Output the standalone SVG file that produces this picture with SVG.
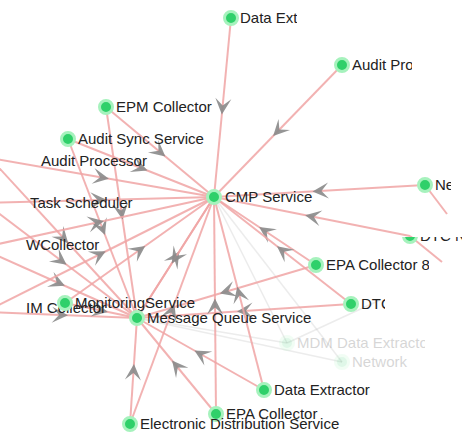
<svg xmlns="http://www.w3.org/2000/svg" width="472" height="434" viewBox="0 0 472 434">
<style>
.e{fill:none;stroke:#f0a4a4;stroke-width:2;stroke-opacity:0.85;marker-mid:url(#arr)}
.f{fill:none;stroke:#c8c8c8;stroke-width:1.5;stroke-opacity:0.35}
.p{fill:none;stroke:#f0a4a4;stroke-width:2;stroke-opacity:0.85}
.n{fill:#2fd06a;stroke:#a6f2bd;stroke-width:3}
.fn{fill:#2fd06a;stroke:#a6f2bd;stroke-width:3;opacity:0.15}
.t{font-family:"Liberation Sans",Arial,sans-serif;font-size:15px;fill:#222}
.ft{font-family:"Liberation Sans",Arial,sans-serif;font-size:15px;fill:#222;opacity:0.18}
</style>
<defs>
<marker id="arr" markerUnits="userSpaceOnUse" viewBox="-10 -10 20 20" markerWidth="20" markerHeight="20" refX="0" refY="0" orient="auto">
<path d="M7,0 L-9,-8 L-2,0 L-9,8 Z" fill="#8a8a8a" fill-opacity="0.9"/>
</marker>
<clipPath id="c1"><rect x="0" y="0" width="297" height="434"/></clipPath>
<clipPath id="c2"><rect x="0" y="0" width="412" height="434"/></clipPath>
<clipPath id="c3"><rect x="0" y="0" width="451" height="434"/></clipPath>
<clipPath id="c4"><rect x="0" y="0" width="429" height="434"/></clipPath>
<clipPath id="c5"><rect x="0" y="0" width="385" height="434"/></clipPath>
<clipPath id="c6"><rect x="0" y="0" width="425" height="434"/></clipPath>
<clipPath id="c7"><rect x="0" y="0" width="410" height="434"/></clipPath>
<clipPath id="c8"><rect x="400" y="237" width="62" height="20"/></clipPath>
</defs>
<rect width="472" height="434" fill="#fff"/>
<g id="connectors">
<path class="f" d="M287,343 L214,197"/>
<path class="f" d="M287,343 L137,318"/>
<path class="f" d="M342,362 L214,197"/>
<path class="f" d="M342,362 L137,318"/>
<path class="f" d="M287,343 L380,300"/>
<path class="p" d="M425,185 L447,214"/>
<path class="p" d="M410,236 L442,262"/>
<path class="e" d="M231,18 L222.5,107.5 L214,197"/>
<path class="e" d="M342,65 L278,131 L214,197"/>
<path class="e" d="M106,107 L160,152 L214,197"/>
<path class="e" d="M106,107 L121.5,212.5 L137,318"/>
<path class="e" d="M68,139 L141,168 L214,197"/>
<path class="e" d="M68,139 L102.5,228.5 L137,318"/>
<path class="e" d="M-10,158 L102,177.5 L214,197"/>
<path class="e" d="M-10,158 L63.5,238 L137,318"/>
<path class="e" d="M-15,203 L99.5,200 L214,197"/>
<path class="e" d="M-15,203 L61,260.5 L137,318"/>
<path class="e" d="M-20,248 L97,222.5 L214,197"/>
<path class="e" d="M-20,248 L58.5,283 L137,318"/>
<path class="e" d="M-15,312 L99.5,254.5 L214,197"/>
<path class="e" d="M-15,312 L61,315 L137,318"/>
<path class="e" d="M65,303 L139.5,250 L214,197"/>
<path class="e" d="M65,303 L101,310.5 L137,318"/>
<path class="e" d="M137,318 L175.5,257.5 L214,197"/>
<path class="e" d="M214,197 L175.5,257.5 L137,318"/>
<path class="e" d="M425,185 L319.5,191 L214,197"/>
<path class="e" d="M410,236 L312,216.5 L214,197"/>
<path class="e" d="M316,265 L265,231 L214,197"/>
<path class="e" d="M316,265 L226.5,291.5 L137,318"/>
<path class="e" d="M351,304 L282.5,250.5 L214,197"/>
<path class="e" d="M351,304 L244,311 L137,318"/>
<path class="e" d="M264,390 L239,293.5 L214,197"/>
<path class="e" d="M264,390 L200.5,354 L137,318"/>
<path class="e" d="M216,414 L215,305.5 L214,197"/>
<path class="e" d="M216,414 L176.5,366 L137,318"/>
<path class="e" d="M130,424 L133.5,371 L137,318"/>
<path class="e" d="M130,424 L172,310.5 L214,197"/>
</g>
<g id="n-dataext-top"><circle class="n" cx="231" cy="18" r="6.5"/><text class="t" x="240" y="23" clip-path="url(#c1)">Data Extractor</text></g>
<g id="n-auditpro-top"><circle class="n" cx="342" cy="65" r="6.5"/><text class="t" x="352" y="70" clip-path="url(#c2)">Audit Processor</text></g>
<g id="n-epm"><circle class="n" cx="106" cy="107" r="6.5"/><text class="t" x="116" y="112">EPM Collector</text></g>
<g id="n-auditsync"><circle class="n" cx="68" cy="139" r="6.5"/><text class="t" x="78" y="144">Audit Sync Service</text></g>
<g id="n-auditproc"><text class="t" x="41" y="166">Audit Processor</text></g>
<g id="n-task"><text class="t" x="30" y="208">Task Scheduler</text></g>
<g id="n-wcoll"><text class="t" x="26" y="250">WCollector</text></g>
<g id="n-imcoll"><text class="t" x="26" y="313">IM Collector</text></g>
<g id="n-monitor"><circle class="n" cx="65" cy="303" r="6.5"/><text class="t" x="75" y="308">MonitoringService</text></g>
<g id="n-mq"><circle class="n" cx="137" cy="318" r="6.5"/><text class="t" x="147" y="323">Message Queue Service</text></g>
<g id="n-cmp"><circle class="n" cx="214" cy="197" r="6.5"/><text class="t" x="225" y="202">CMP Service</text></g>
<g id="n-net"><circle class="n" cx="425" cy="185" r="6.5"/><text class="t" x="435" y="190" clip-path="url(#c3)">Network</text></g>
<g id="n-dtcn" clip-path="url(#c8)"><circle class="n" cx="410" cy="236" r="6.5"/><text class="t" x="420" y="241">DTC N</text></g>
<g id="n-epa8"><circle class="n" cx="316" cy="265" r="6.5"/><text class="t" x="326" y="270" clip-path="url(#c4)">EPA Collector 8</text></g>
<g id="n-dtc"><circle class="n" cx="351" cy="304" r="6.5"/><text class="t" x="361" y="309" clip-path="url(#c5)">DTC</text></g>
<g id="n-mdm"><circle class="fn" cx="287" cy="343" r="6.5"/><text class="ft" x="297" y="348" clip-path="url(#c6)">MDM Data Extractor</text></g>
<g id="n-network2"><circle class="fn" cx="342" cy="362" r="6.5"/><text class="ft" x="352" y="367" clip-path="url(#c7)">Network</text></g>
<g id="n-dataext"><circle class="n" cx="264" cy="390" r="6.5"/><text class="t" x="274" y="395">Data Extractor</text></g>
<g id="n-epa"><circle class="n" cx="216" cy="414" r="6.5"/><text class="t" x="226" y="419">EPA Collector</text></g>
<g id="n-ed"><circle class="n" cx="130" cy="424" r="6.5"/><text class="t" x="140" y="429">Electronic Distribution Service</text></g>
</svg>
